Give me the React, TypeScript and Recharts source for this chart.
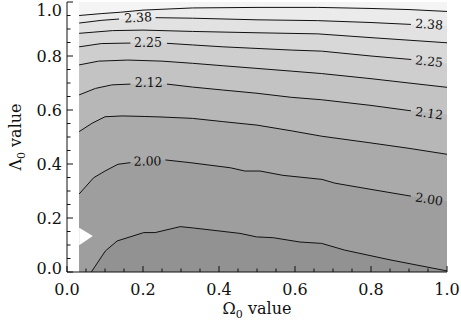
import { ComposedChart, Area, Line, Scatter, XAxis, YAxis, ReferenceArea } from "recharts";

type Pt = [number, number | null];

// first Omega column of the grid (left of it nothing was computed)
const omegaStart = 0.032;

// contour levels, top to bottom
const levels = [2.4375, 2.375, 2.3125, 2.25, 2.1875, 2.125, 2.0625, 2.0, 1.9375];

// [Omega0, Lambda0], null = gap for the inline label
const contour1: Pt[] = [[0.032, 0.95], [0.09, 0.957], [0.14, 0.962], [0.2, 0.97], [0.33, 0.978], [0.5, 0.98], [0.66, 0.98], [0.8, 0.976], [0.9, 0.972], [1.0, 0.965]];
const contour2: Pt[] = [[0.032, 0.922], [0.09, 0.932], [0.137, 0.937], [0.187, null], [0.233, 0.942], [0.33, 0.94], [0.5, 0.934], [0.66, 0.931], [0.8, 0.924], [0.905, 0.917], [0.953, null], [1.0, 0.912]];
const contour3: Pt[] = [[0.032, 0.884], [0.12, 0.894], [0.2, 0.896], [0.33, 0.891], [0.5, 0.886], [0.66, 0.882], [0.8, 0.868], [1.0, 0.849]];
const contour4: Pt[] = [[0.032, 0.834], [0.09, 0.846], [0.167, 0.848], [0.215, null], [0.263, 0.847], [0.33, 0.841], [0.41, 0.834], [0.5, 0.828], [0.59, 0.822], [0.67, 0.818], [0.8, 0.8], [0.906, 0.787], [0.953, null], [1.0, 0.772]];
const contour5: Pt[] = [[0.032, 0.767], [0.083, 0.781], [0.16, 0.785], [0.25, 0.781], [0.33, 0.773], [0.41, 0.764], [0.5, 0.754], [0.59, 0.744], [0.67, 0.735], [0.8, 0.716], [0.9, 0.7], [1.0, 0.684]];
const contour6: Pt[] = [[0.032, 0.656], [0.075, 0.68], [0.118, 0.693], [0.167, 0.696], [0.215, null], [0.263, 0.696], [0.33, 0.685], [0.41, 0.674], [0.5, 0.662], [0.59, 0.647], [0.67, 0.638], [0.8, 0.617], [0.905, 0.597], [0.953, null], [1.0, 0.583]];
const contour7: Pt[] = [[0.032, 0.52], [0.066, 0.551], [0.1, 0.575], [0.145, 0.578], [0.205, 0.576], [0.25, 0.574], [0.33, 0.569], [0.41, 0.557], [0.5, 0.544], [0.59, 0.523], [0.67, 0.503], [0.8, 0.478], [0.9, 0.458], [1.0, 0.436]];
const contour8: Pt[] = [[0.032, 0.289], [0.07, 0.349], [0.1, 0.374], [0.134, 0.399], [0.167, 0.405], [0.212, null], [0.259, 0.415], [0.324, 0.405], [0.43, 0.386], [0.468, 0.374], [0.508, 0.374], [0.568, 0.358], [0.671, 0.343], [0.705, 0.329], [0.8, 0.306], [0.905, 0.281], [0.953, null], [1.0, 0.262]];
const contour9: Pt[] = [[0.064, 0.0], [0.101, 0.078], [0.132, 0.115], [0.202, 0.146], [0.232, 0.146], [0.298, 0.168], [0.333, 0.163], [0.376, 0.156], [0.455, 0.143], [0.499, 0.13], [0.543, 0.127], [0.613, 0.111], [0.67, 0.106], [0.731, 0.081], [0.85, 0.045], [1.0, 0.004]];

const contours = [contour1, contour2, contour3, contour4, contour5, contour6, contour7, contour8, contour9];

// the little white notch at the left edge (no data there)
const notchOmega = [0.032, 0.068];
const notchLow = [0.099, 0.133];
const notchHigh = [0.164, 0.133];

// inline contour labels
const labelText = ["2.38", "2.38", "2.25", "2.25", "2.12", "2.12", "2.00", "2.00"];
const labelOmega = [0.187, 0.953, 0.213, 0.953, 0.215, 0.953, 0.212, 0.953];
const labelLambda = [0.943, 0.918, 0.849, 0.781, 0.701, 0.588, 0.411, 0.27];

const xTicks = [0, 0.05, 0.1, 0.15, 0.2, 0.25, 0.3, 0.35, 0.4, 0.45, 0.5, 0.55, 0.6, 0.65, 0.7, 0.75, 0.8, 0.85, 0.9, 0.95, 1.0];
const yTicks = [0, 0.05, 0.1, 0.15, 0.2, 0.25, 0.3, 0.35, 0.4, 0.45, 0.5, 0.55, 0.6, 0.65, 0.7, 0.75, 0.8, 0.85, 0.9, 0.95, 1.0];

// styling
const bandFills = ["#f4f4f4", "#ebebeb", "#e2e2e2", "#d8d8d8", "#cecece", "#c3c3c3", "#b7b7b7", "#aaaaaa", "#9e9e9e", "#929292"];
const labelTilt = [-3, 4, 0, 6, 0, 8, -1, 9];
const FONT = "'DejaVu Serif', serif";
const INK = "#111";

const areaData = contours.map((c) =>
  c.filter((p) => p[1] !== null).map(([x, y]) => ({ x, y }))
);
const lineData = contours.map((c) => c.map(([x, y]) => ({ x, y })));
const notchData = notchOmega.map((x, i) => ({ x, range: [notchLow[i], notchHigh[i]] }));
const labelData = labelText.map((text, i) => ({
  x: labelOmega[i],
  y: labelLambda[i],
  text,
  tilt: labelTilt[i],
}));

const isMajor = (v: number) => Math.abs(v * 5 - Math.round(v * 5)) < 1e-6;

const makeTick = (side: "bottom" | "top" | "left" | "right") => (props: any) => {
  const { x, y, payload } = props;
  const v = payload.value;
  const len = isMajor(v) ? 6 : 3.5;
  let tick;
  if (side === "bottom") tick = <line x1={x} y1={y} x2={x} y2={y - len} stroke={INK} />;
  else if (side === "top") tick = <line x1={x} y1={y} x2={x} y2={y + len} stroke={INK} />;
  else if (side === "left") tick = <line x1={x} y1={y} x2={x + len} y2={y} stroke={INK} />;
  else tick = <line x1={x} y1={y} x2={x - len} y2={y} stroke={INK} />;

  let text = null;
  if (isMajor(v) && side === "bottom") {
    text = (
      <text x={x} y={y + 23} textAnchor="middle" fontFamily={FONT} fontSize={16} fill={INK}>
        {v.toFixed(1)}
      </text>
    );
  }
  if (isMajor(v) && side === "left") {
    const ty = v === 1 ? y + 14 : v === 0 ? y + 2 : y + 6;
    text = (
      <text x={x - 5} y={ty} textAnchor="end" fontFamily={FONT} fontSize={16} fill={INK}>
        {v.toFixed(1)}
      </text>
    );
  }
  return (
    <g>
      {tick}
      {text}
    </g>
  );
};

const renderLabel = (props: any) => {
  const { cx, cy, payload } = props;
  return (
    <text
      x={cx}
      y={cy}
      textAnchor="middle"
      dominantBaseline="central"
      fontFamily={FONT}
      fontSize={12.5}
      fill={INK}
      transform={`rotate(${payload.tilt}, ${cx}, ${cy})`}
    >
      {payload.text}
    </text>
  );
};

const xTitle = ({ viewBox }: any) => (
  <text x={viewBox.x + viewBox.width / 2} y={viewBox.y + 42} textAnchor="middle" fontFamily={FONT} fontSize={16} fill={INK}>
    Ω<tspan fontSize={11} dy={4}>0</tspan>
    <tspan dy={-4}> value</tspan>
  </text>
);

const yTitle = ({ viewBox }: any) => {
  const tx = viewBox.x + 21;
  const ty = viewBox.y + viewBox.height / 2;
  return (
    <text x={tx} y={ty} textAnchor="middle" fontFamily={FONT} fontSize={16} fill={INK} transform={`rotate(-90, ${tx}, ${ty})`}>
      Λ<tspan fontSize={11} dy={4}>0</tspan>
      <tspan dy={-4}> value</tspan>
    </text>
  );
};

export default function App() {
  return (
    <div style={{ position: "absolute", left: 0, top: 0, background: "#fff" }}>
      <ComposedChart width={461} height={324} margin={{ top: 2, right: 14, bottom: 0, left: 0 }}>
        <XAxis
          type="number"
          dataKey="x"
          domain={[0, 1]}
          allowDataOverflow
          ticks={xTicks}
          interval={0}
          tick={makeTick("bottom")}
          tickLine={false}
          tickSize={0}
          tickMargin={0}
          axisLine={{ stroke: INK }}
          height={52}
          label={{ content: xTitle }}
        />
        <XAxis
          xAxisId="top"
          orientation="top"
          type="number"
          domain={[0, 1]}
          ticks={xTicks}
          interval={0}
          tick={makeTick("top")}
          tickLine={false}
          tickSize={0}
          tickMargin={0}
          axisLine={{ stroke: INK }}
          height={0}
        />
        <YAxis
          type="number"
          dataKey="y"
          domain={[0, 1]}
          allowDataOverflow
          ticks={yTicks}
          interval={0}
          tick={makeTick("left")}
          tickLine={false}
          tickSize={0}
          tickMargin={0}
          axisLine={{ stroke: INK }}
          width={67}
          label={{ content: yTitle }}
        />
        <YAxis
          yAxisId="right"
          orientation="right"
          type="number"
          domain={[0, 1]}
          ticks={yTicks}
          interval={0}
          tick={makeTick("right")}
          tickLine={false}
          tickSize={0}
          tickMargin={0}
          axisLine={{ stroke: INK }}
          width={0}
        />
        <ReferenceArea x1={omegaStart} x2={1} y1={0} y2={1} fill={bandFills[0]} fillOpacity={1} stroke="none" />
        {areaData.map((d, i) => (
          <Area
            key={`a${levels[i]}`}
            data={d}
            dataKey="y"
            type="linear"
            baseValue={0}
            fill={bandFills[i + 1]}
            fillOpacity={1}
            stroke="none"
            dot={false}
            activeDot={false}
            isAnimationActive={false}
          />
        ))}
        <Area
          data={notchData}
          dataKey="range"
          type="linear"
          fill="#ffffff"
          fillOpacity={1}
          stroke="none"
          dot={false}
          activeDot={false}
          isAnimationActive={false}
        />
        {lineData.map((d, i) => (
          <Line
            key={`l${levels[i]}`}
            data={d}
            dataKey="y"
            type="linear"
            stroke={INK}
            strokeWidth={1}
            dot={false}
            activeDot={false}
            connectNulls={false}
            isAnimationActive={false}
          />
        ))}
        <Scatter data={labelData} dataKey="y" shape={renderLabel} isAnimationActive={false} />
      </ComposedChart>
    </div>
  );
}
